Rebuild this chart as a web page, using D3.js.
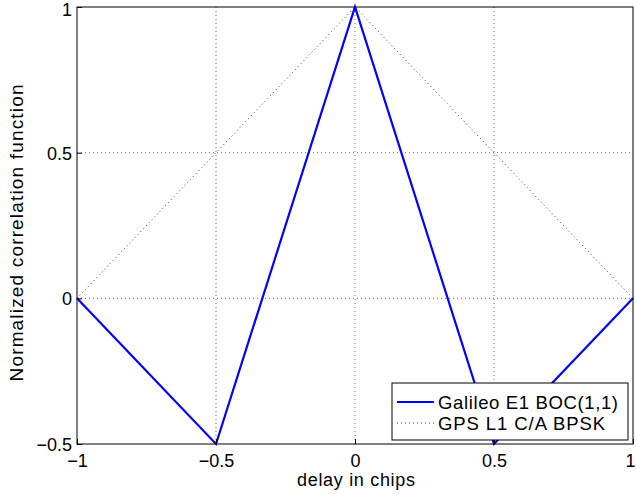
<!DOCTYPE html>
<html lang='en'>
    <head>
        <meta charset='utf-8'>
        <title>Correlation function</title>
        <script src="https://d3js.org/d3.v7.min.js" charset='utf-8'></script>
        <style type='text/css'>
            body { margin: 0; background: #fff; }
            svg { display: block; }
            svg text { font-family: 'Liberation Sans', Arial, sans-serif; fill: #000; }
        </style>
    </head>
    <body>
        <script type='text/javascript'>
            // data
            var delays = [-1, -0.5, 0, 0.5, 1];
            var bocValues = [0, -0.5, 1, -0.5, 0];
            var bpskDelays = [-1, 0, 1];
            var bpskValues = [0, 1, 0];
            var xTicks = [-1, -0.5, 0, 0.5, 1];
            var yTicks = [-0.5, 0, 0.5, 1];
            var seriesNames = ['Galileo E1 BOC(1,1)', 'GPS L1 C/A BPSK'];

            var W = 636, H = 495;
            var margin = {top: 7, right: 3, bottom: 51, left: 77};
            var width = W - margin.left - margin.right;
            var height = H - margin.top - margin.bottom;

            var svg = d3.select('body').append('svg')
                .attr('width', W).attr('height', H);
            var g = svg.append('g')
                .attr('transform', 'translate(' + margin.left + ',' + margin.top + ')');

            var x = d3.scaleLinear().domain([-1, 1]).range([0, width]);
            var y = d3.scaleLinear().domain([-0.5, 1]).range([height, 0]);

            var fmt = function(d) { return String(d).replace('-', '\u2212'); };

            // grid
            g.append('g').selectAll('line').data(xTicks.slice(1, -1)).enter().append('line')
                .attr('x1', x).attr('x2', x).attr('y1', 0).attr('y2', height)
                .attr('stroke', '#444').attr('stroke-width', 0.8).attr('stroke-dasharray', '1,3');
            g.append('g').selectAll('line').data(yTicks.slice(1, -1)).enter().append('line')
                .attr('y1', y).attr('y2', y).attr('x1', 0).attr('x2', width)
                .attr('stroke', '#444').attr('stroke-width', 0.8).attr('stroke-dasharray', '1,3');

            var line = d3.line().x(function(d) { return x(d[0]); }).y(function(d) { return y(d[1]); });

            g.append('path')
                .datum(d3.zip(bpskDelays, bpskValues))
                .attr('d', line).attr('fill', 'none')
                .attr('stroke', '#000').attr('stroke-width', 0.8).attr('stroke-dasharray', '1,3');
            g.append('path')
                .datum(d3.zip(delays, bocValues))
                .attr('d', line).attr('fill', 'none')
                .attr('stroke', '#0000ff').attr('stroke-width', 2.2);

            // axes (ticks inward)
            var xAxis = g.append('g').attr('transform', 'translate(0,' + height + ')')
                .call(d3.axisBottom(x).tickValues(xTicks).tickSizeInner(-5).tickSizeOuter(0).tickPadding(0).tickFormat(fmt));
            var yAxis = g.append('g')
                .call(d3.axisLeft(y).tickValues(yTicks).tickSizeInner(-5).tickSizeOuter(0).tickPadding(0).tickFormat(fmt));
            [xAxis, yAxis].forEach(function(a) {
                a.attr('font-family', null).attr('font-size', null);
                a.select('.domain').remove();
                a.selectAll('.tick line').attr('stroke', '#000');
                a.selectAll('.tick text').style('font-size', '18px');
            });
            xAxis.selectAll('.tick text').attr('y', 23).attr('dy', null);
            // keep the last label inside the window, as in the figure
            xAxis.selectAll('.tick text').filter(function(d) { return d === 1; })
                .attr('text-anchor', 'end').attr('x', 2);
            yAxis.selectAll('.tick text').attr('x', -5).attr('dy', '0.36em');
            yAxis.selectAll('.tick text').filter(function(d) { return d === 1; }).attr('dy', '0.45em');

            g.append('rect').attr('width', width).attr('height', height)
                .attr('fill', 'none').attr('stroke', '#000').attr('stroke-width', 1);

            // labels
            svg.append('text').attr('x', 356).attr('y', 486)
                .attr('text-anchor', 'middle').style('font-size', '18px')
                .attr('textLength', 118).attr('lengthAdjust', 'spacing')
                .text('delay in chips');
            svg.append('text')
                .attr('transform', 'translate(23,233) rotate(-90)')
                .attr('text-anchor', 'middle').style('font-size', '19px')
                .attr('textLength', 297).attr('lengthAdjust', 'spacing')
                .text('Normalized correlation function');

            // legend
            var lg = svg.append('g').attr('transform', 'translate(392,383)');
            lg.append('rect').attr('width', 236).attr('height', 57)
                .attr('fill', '#fff').attr('stroke', '#000').attr('stroke-width', 1);
            var styles = [
                {stroke: '#0000ff', w: 2.2, dash: null, len: 180},
                {stroke: '#000', w: 0.8, dash: '1,3', len: 167}
            ];
            seriesNames.forEach(function(name, i) {
                var yy = 19 + i * 21;
                lg.append('line').attr('x1', 5).attr('x2', 42).attr('y1', yy).attr('y2', yy)
                    .attr('stroke', styles[i].stroke).attr('stroke-width', styles[i].w)
                    .attr('stroke-dasharray', styles[i].dash);
                lg.append('text').attr('x', 46).attr('y', yy + 7)
                    .style('font-size', '18.5px')
                    .attr('textLength', styles[i].len).attr('lengthAdjust', 'spacing')
                    .text(name);
            });
        </script>
    </body>
</html>
